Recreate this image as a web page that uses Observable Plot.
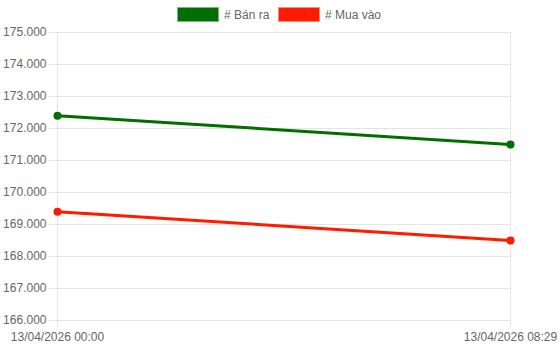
<!DOCTYPE html>
<html>
<head>
<meta charset="utf-8">
<script src="https://cdn.jsdelivr.net/npm/d3@7"></script>
<script src="https://cdn.jsdelivr.net/npm/@observablehq/plot@0.6"></script>
<style>
  html, body { margin: 0; padding: 0; background: #fff; }
  body { width: 560px; height: 349px; overflow: hidden; font-family: "Liberation Sans", Arial, Helvetica, sans-serif; }
  #legend { height: 25px; position: relative; font-size: 12px; color: #666; }
  .item { position: absolute; top: 7px; display: flex; align-items: center; height: 15px; }
  .box { width: 40px; height: 13px; margin-right: 5px; box-sizing: content-box; }
  #chart svg { display: block; }
</style>
</head>
<body>
<div id="legend"></div>
<div id="chart"></div>
<script>
const times = ["2026-04-13T00:00:00Z", "2026-04-13T08:29:00Z"];
const timeLabels = ["13/04/2026 00:00", "13/04/2026 08:29"];
const seriesNames = ["# Bán ra", "# Mua vào"];
const seriesColors = ["#006e00", "#ff1a00"];
const seriesBorders = ["#7fb67f", "#ff8c80"];
const banRa = [172400, 171500];
const muaVao = [169400, 168500];
const yTicks = [166000, 167000, 168000, 169000, 170000, 171000, 172000, 173000, 174000, 175000];

const dates = times.map(t => new Date(t));
const values = [banRa, muaVao];
const data = [];
values.forEach((vals, s) => vals.forEach((v, i) => data.push({date: dates[i], value: v, series: seriesNames[s]})));

const vn = d3.formatLocale({decimal: ",", thousands: ".", grouping: [3], currency: ["", ""]});
const fmt = vn.format(",");
const labelOf = d => timeLabels[dates.findIndex(x => +x === +d)];

// legend
const legend = document.getElementById("legend");
const lefts = [177, 278];
seriesNames.forEach((name, i) => {
  const it = document.createElement("div");
  it.className = "item";
  it.style.left = lefts[i] + "px";
  const b = document.createElement("div");
  b.className = "box";
  b.style.background = seriesColors[i];
  b.style.border = "1px solid " + seriesBorders[i];
  it.appendChild(b);
  const t = document.createElement("span");
  t.textContent = name;
  it.appendChild(t);
  legend.appendChild(it);
});

const grid = "rgba(0,0,0,0.1)";
const chart = Plot.plot({
  width: 560,
  height: 324,
  marginTop: 7,
  marginLeft: 57,
  marginRight: 50,
  marginBottom: 29,
  style: {fontFamily: "'Liberation Sans', Arial, sans-serif", fontSize: "12px", background: "#fff"},
  x: {type: "utc", domain: [dates[0], dates[1]]},
  y: {domain: [yTicks[0], yTicks[yTicks.length - 1]]},
  color: {domain: seriesNames, range: seriesColors},
  marks: [
    Plot.gridY(yTicks, {stroke: "#000", strokeOpacity: 0.1, strokeWidth: 1}),
    Plot.gridX(dates, {stroke: "#000", strokeOpacity: 0.1, strokeWidth: 1}),
    Plot.axisY(yTicks, {tickSize: 8, tickPadding: 3, tickFormat: fmt, stroke: grid, fill: "#666", fontSize: 12, label: null}),
    Plot.axisX(dates, {tickSize: 7, tickPadding: 5, tickFormat: labelOf, stroke: grid, fill: "#666", fontSize: 12, label: null}),
    Plot.line(data, {x: "date", y: "value", z: "series", stroke: "series", strokeWidth: 3}),
    Plot.dot(data, {x: "date", y: "value", fill: "series", r: 4, stroke: null})
  ]
});
document.getElementById("chart").appendChild(chart);
</script>
</body>
</html>
